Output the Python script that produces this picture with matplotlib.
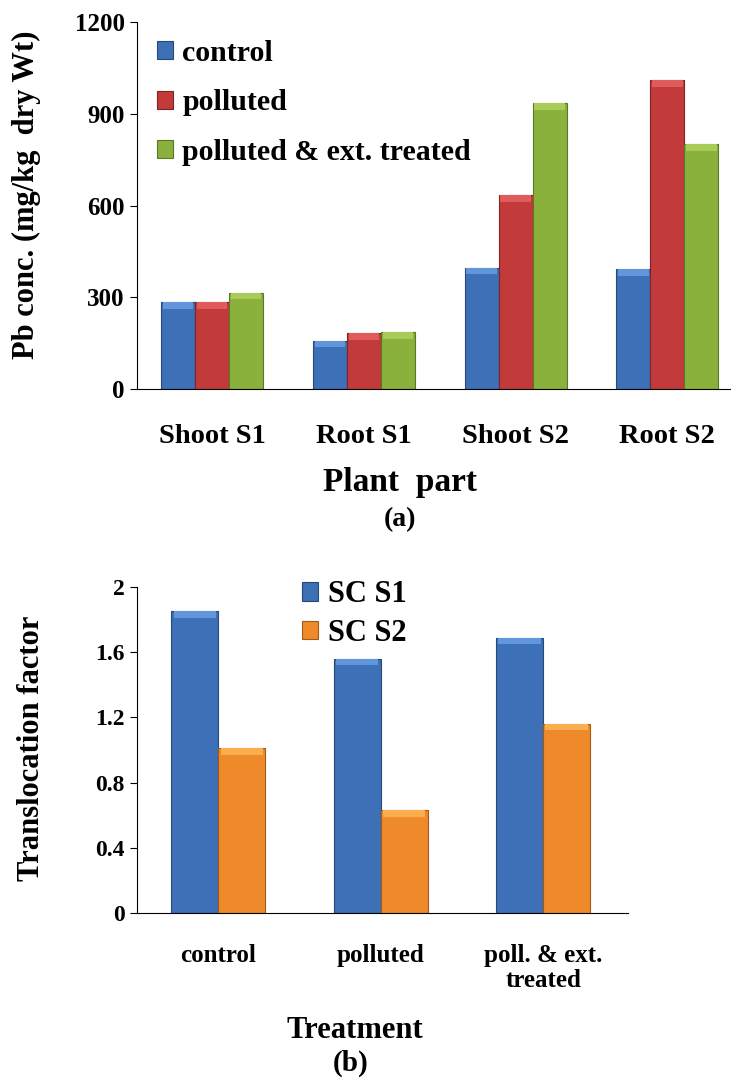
import numpy as np
import matplotlib.pyplot as plt

# panel (a): Pb concentration
parts = ['Shoot S1', 'Root S1', 'Shoot S2', 'Root S2']
control = [285, 158, 397, 393]
polluted = [285, 182, 635, 1010]
treated = [315, 186, 935, 800]

# panel (b): translocation factor
treatments = ['control', 'polluted', 'poll. & ext.\ntreated']
sc_s1 = [1.85, 1.56, 1.69]
sc_s2 = [1.01, 0.63, 1.16]

plt.rcParams['font.family'] = ['Liberation Serif', 'DejaVu Serif']
plt.rcParams['font.weight'] = 'bold'


def shaded_bar(ax, xs, vals, width, col, light, edge, label, cap):
    # plain bar plus a lighter strip on top, a bit like the bevel look
    ax.bar(xs, vals, width, color=col, edgecolor=edge, linewidth=0.8,
           label=label)
    vals = np.asarray(vals)
    ax.bar(xs, np.full(len(vals), cap), width * 0.9, bottom=vals - cap,
           color=light, linewidth=0)


fig = plt.figure(figsize=(7.31, 10.8), dpi=100)

# ---- top chart
ax1 = fig.add_axes([0.1875, 0.6398, 0.8125, 0.3398])
x = np.arange(len(parts))
w = 0.224
series = [(control, '#3d70b6', '#5f97da', '#27497a', 'control'),
          (polluted, '#c23a3a', '#e05c5c', '#7e2424', 'polluted'),
          (treated, '#8ab13c', '#a9cc58', '#5a7726', 'polluted & ext. treated')]
for i, (vals, col, light, edge, lab) in enumerate(series):
    shaded_bar(ax1, x + (i - 1) * w, vals, w, col, light, edge, lab, 22)
ax1.set_xlim(-0.495, 3.42)
ax1.set_ylim(0, 1200)
ax1.set_yticks([0, 300, 600, 900, 1200])
ax1.set_xticks(x)
ax1.set_xticklabels(parts, fontsize=20.5)
ax1.tick_params(axis='x', length=0, pad=25)
ax1.tick_params(axis='y', labelsize=18, direction='out', length=5, pad=4)
for s in ['top', 'right']:
    ax1.spines[s].set_visible(False)
h, l = ax1.get_legend_handles_labels()
ax1.legend(h, l, loc='upper left', bbox_to_anchor=(0.178, 0.988),
           bbox_transform=fig.transFigure, frameon=False,
           fontsize=21.5, handlelength=0.55, handleheight=0.55,
           labelspacing=0.75, handletextpad=0.3, borderpad=0.4)
fig.text(0.036, 0.82, 'Pb conc. (mg/kg  dry Wt)', rotation=90,
         ha='center', va='center', fontsize=22)
fig.text(0.547, 0.553, 'Plant  part', ha='center', va='center', fontsize=24)
fig.text(0.547, 0.519, '(a)', ha='center', va='center', fontsize=20)

# ---- bottom chart
ax2 = fig.add_axes([0.1875, 0.1546, 0.671, 0.3019])
x2 = np.arange(len(treatments))
w2 = 0.29
shaded_bar(ax2, x2 - w2 / 2, sc_s1, w2, '#3d70b6', '#5f97da', '#27497a',
           'SC S1', 0.04)
shaded_bar(ax2, x2 + w2 / 2, sc_s2, w2, '#ef8a2a', '#fbae50', '#a35a16',
           'SC S2', 0.04)
ax2.set_xlim(-0.5, 2.52)
ax2.set_ylim(0, 2)
ax2.set_yticks([0, 0.4, 0.8, 1.2, 1.6, 2])
ax2.set_yticklabels(['0', '0.4', '0.8', '1.2', '1.6', '2'])
ax2.set_xticks(x2)
ax2.set_xticklabels(treatments, fontsize=18, linespacing=1.15)
ax2.tick_params(axis='x', length=0, pad=22)
ax2.tick_params(axis='y', labelsize=17, direction='out', length=5, pad=4)
for s in ['top', 'right']:
    ax2.spines[s].set_visible(False)
h, l = ax2.get_legend_handles_labels()
ax2.legend(h, l, loc='upper left', bbox_to_anchor=(0.375, 0.488),
           bbox_transform=fig.transFigure, frameon=False,
           fontsize=22, handlelength=0.55, handleheight=0.55,
           labelspacing=0.3, handletextpad=0.3, borderpad=0.4)
fig.text(0.043, 0.307, 'Translocation factor', rotation=90,
         ha='center', va='center', fontsize=22)
fig.text(0.485, 0.046, 'Treatment', ha='center', va='center', fontsize=22)
fig.text(0.48, 0.015, '(b)', ha='center', va='center', fontsize=21)

fig.savefig('out.png', dpi=100)
